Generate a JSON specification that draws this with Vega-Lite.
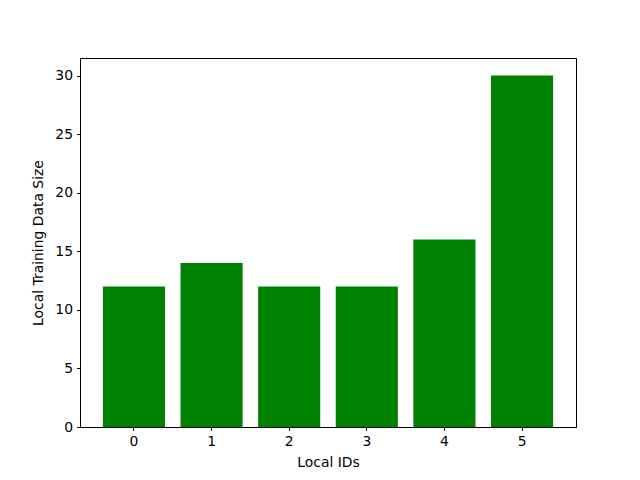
{
  "$schema": "https://vega.github.io/schema/vega-lite/v6.json",
  "width": 496,
  "height": 369,
  "autosize": {"type": "none"},
  "padding": {"left": 80, "top": 58, "right": 64, "bottom": 53},
  "background": "white",
  "config": {
    "view": {"stroke": "black", "strokeWidth": 1},
    "font": "DejaVu Sans",
    "axis": {
      "domainColor": "black",
      "tickColor": "black",
      "tickSize": 3.5,
      "labelFontSize": 13.9,
      "labelColor": "black",
      "titleFontSize": 13.9,
      "titleFontWeight": "normal",
      "titleColor": "black",
      "grid": false,
      "labelPadding": 4
    }
  },
  "data": {
    "values": [
      {"id": "0", "size": 12},
      {"id": "1", "size": 14},
      {"id": "2", "size": 12},
      {"id": "3", "size": 12},
      {"id": "4", "size": 16},
      {"id": "5", "size": 30}
    ]
  },
  "mark": {"type": "bar", "color": "green"},
  "encoding": {
    "x": {
      "field": "id",
      "type": "ordinal",
      "scale": {"paddingInner": 0.2, "paddingOuter": 0.295},
      "axis": {"title": "Local IDs", "labelAngle": 0, "titlePadding": 7}
    },
    "y": {
      "field": "size",
      "type": "quantitative",
      "scale": {"domain": [0, 31.5], "nice": false},
      "axis": {"title": "Local Training Data Size", "values": [0, 5, 10, 15, 20, 25, 30], "titlePadding": 9}
    }
  }
}
